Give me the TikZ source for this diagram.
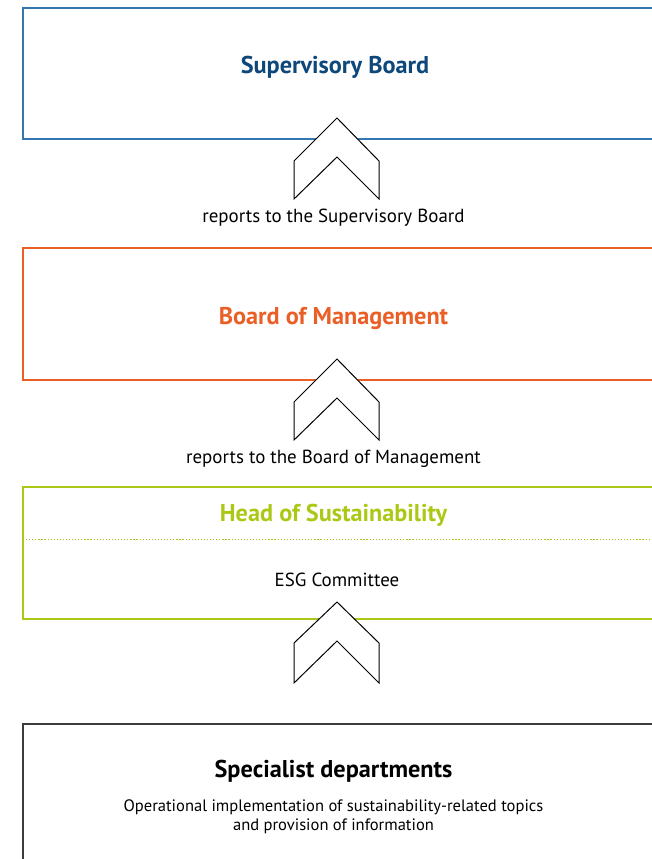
\documentclass[tikz,border=0pt]{standalone}
\usepackage{fontspec}
\setmainfont{PT Sans}
\definecolor{supblue}{RGB}{52,118,178}
\definecolor{supnavy}{RGB}{14,72,122}
\definecolor{mgmtorange}{RGB}{234,95,38}
\definecolor{sustgreen}{RGB}{172,200,22}
\definecolor{deptgrey}{RGB}{60,60,60}

\tikzset{every picture/.style={line width=0.75pt}}
\tikzset{
  boardbox/.style={line width=1.1pt},
  uparrow/.style={draw=black,fill=white,line width=0.75pt,line join=miter},
  titletext/.style={inner sep=0.75pt,font=\bfseries\fontsize{18.2}{21}\selectfont},
  plaintext/.style={inner sep=0.75pt,font=\fontsize{14.2}{17}\selectfont},
  smalltext/.style={inner sep=0.75pt,align=center,font=\fontsize{12.4}{14.6}\selectfont}
}

\begin{document}
\begin{tikzpicture}[x=0.75pt,y=0.75pt,yscale=-1,xscale=1]
\useasboundingbox (0,0) rectangle (651,859);

%Shape: Rectangle [id:supervisory]
\draw [boardbox,draw=supblue] (23,8) rectangle (653,139);
%Shape: Rectangle [id:management]
\draw [boardbox,draw=mgmtorange] (23,248) rectangle (653,380);
%Shape: Rectangle [id:sustainability]
\draw [boardbox,draw=sustgreen] (23,487) rectangle (653,619);
%Straight Lines [id:dotted]
\draw [sustgreen,line width=1pt,dash pattern={on 0.9pt off 1.4pt}] (23,539.5) -- (653,539.5);
%Shape: Rectangle [id:departments]
\draw [boardbox,draw=deptgrey] (23,724) rectangle (653,863);

%Shape: Chevron [id:chev1]
\draw [uparrow] (294,161) -- (337,118) -- (379,161) -- (379,199) -- (337,157) -- (294,199) -- cycle;
%Shape: Chevron [id:chev2]
\draw [uparrow] (294,402) -- (337,359) -- (379,402) -- (379,440) -- (337,398) -- (294,440) -- cycle;
%Shape: Chevron [id:chev3]
\draw [uparrow] (294,643) -- (337,602) -- (379,643) -- (379,683) -- (337,641) -- (294,683) -- cycle;

% Text Node
\node (supboard) [titletext,text=supnavy] at (335,67) {Supervisory Board};
% Text Node
\node (reportsup) [plaintext] at (333.5,218) {reports to the Supervisory Board};
% Text Node
\node (mgmtboard) [titletext,text=mgmtorange] at (333.5,318) {Board of Management};
% Text Node
\node (reportmgmt) [plaintext] at (333.5,459) {reports to the Board of Management};
% Text Node
\node (headsust) [titletext,text=sustgreen] at (333.5,515) {Head of Sustainability};
% Text Node
\node (esg) [plaintext] at (337,580) {ESG Committee};
% Text Node
\node (specdept) [titletext] at (333.5,771) {Specialist departments};
% Text Node
\node (operational) [smalltext] at (333.5,817) {Operational implementation of sustainability-related topics\\and provision of information};

\end{tikzpicture}
\end{document}
